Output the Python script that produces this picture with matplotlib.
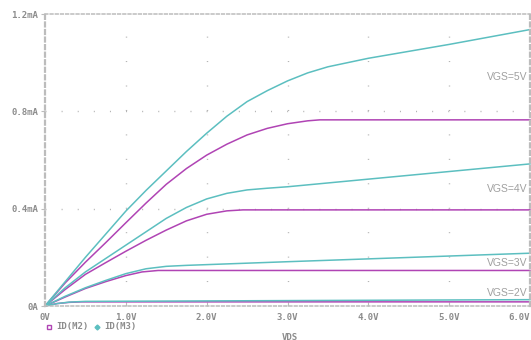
import matplotlib
matplotlib.use('Agg')
import matplotlib.pyplot as plt

# VDS (V) / drain current (mA), one curve per VGS
v_m2_5 = [0, 0.25, 0.5, 0.75, 1.0, 1.25, 1.5, 1.75, 2.0, 2.25, 2.5, 2.75, 3.0, 3.25, 3.4, 6.0]
i_m2_5 = [0, 0.095, 0.18, 0.26, 0.342, 0.423, 0.5, 0.565, 0.62, 0.665, 0.703, 0.73, 0.749, 0.761, 0.765, 0.765]
v_m3_5 = [0, 0.25, 0.5, 0.75, 1.0, 1.25, 1.5, 1.75, 2.0, 2.25, 2.5, 2.75, 3.0, 3.25, 3.5, 4.0, 5.0, 6.0]
i_m3_5 = [0, 0.10, 0.20, 0.295, 0.39, 0.475, 0.555, 0.635, 0.71, 0.78, 0.84, 0.885, 0.925, 0.958, 0.983, 1.018, 1.075, 1.136]

v_m2_4 = [0, 0.25, 0.5, 0.75, 1.0, 1.25, 1.5, 1.75, 2.0, 2.25, 2.45, 6.0]
i_m2_4 = [0, 0.068, 0.13, 0.178, 0.225, 0.27, 0.312, 0.35, 0.377, 0.391, 0.395, 0.395]
v_m3_4 = [0, 0.25, 0.5, 0.75, 1.0, 1.25, 1.5, 1.75, 2.0, 2.25, 2.5, 2.75, 3.0, 6.0]
i_m3_4 = [0, 0.075, 0.14, 0.195, 0.25, 0.305, 0.36, 0.405, 0.44, 0.463, 0.477, 0.484, 0.49, 0.584]

v_m2_3 = [0, 0.25, 0.5, 0.75, 1.0, 1.2, 1.4, 6.0]
i_m2_3 = [0, 0.037, 0.072, 0.1, 0.125, 0.14, 0.146, 0.146]
v_m3_3 = [0, 0.25, 0.5, 0.75, 1.0, 1.25, 1.5, 1.75, 3.0, 6.0]
i_m3_3 = [0, 0.04, 0.075, 0.105, 0.133, 0.153, 0.163, 0.167, 0.182, 0.217]

v_m2_2 = [0, 0.15, 0.3, 0.45, 6.0]
i_m2_2 = [0, 0.01, 0.015, 0.017, 0.017]
v_m3_2 = [0, 0.15, 0.3, 0.5, 6.0]
i_m3_2 = [0, 0.01, 0.016, 0.019, 0.026]

vgs_labels = ['VGS=5V', 'VGS=4V', 'VGS=3V', 'VGS=2V']
x_ticks = [0, 1, 2, 3, 4, 5, 6]
x_ticklabels = ['0V', '1.0V', '2.0V', '3.0V', '4.0V', '5.0V', '6.0V']
y_ticks = [0, 0.4, 0.8, 1.2]
y_ticklabels = ['0A', '0.4mA', '0.8mA', '1.2mA']

MAG = '#b044b4'
TEAL = '#5cbfc0'
GRAY = '#8c8c8c'
FRAME = '#bcbcbc'

fig = plt.figure(figsize=(5.31, 3.40), dpi=100)
ax = fig.add_axes([45 / 531, 34 / 340, 485 / 531, 292 / 340])
ax.set_xlim(0, 6)
ax.set_ylim(0, 1.2)

# sparse dotted grid
for x in [1, 2, 3, 4, 5]:
    ax.axvline(x, color='#b0b0b0', lw=1, linestyle=(0, (0.7, 16.9)), zorder=0)
for y in [0.4, 0.8]:
    ax.axhline(y, color='#b0b0b0', lw=1, linestyle=(0, (0.7, 10.9)), zorder=0)

# magenta first, teal on top
for v, i in [(v_m2_5, i_m2_5), (v_m2_4, i_m2_4), (v_m2_3, i_m2_3), (v_m2_2, i_m2_2)]:
    ax.plot(v, i, color=MAG, lw=1.1, clip_on=False)
for v, i in [(v_m3_5, i_m3_5), (v_m3_4, i_m3_4), (v_m3_3, i_m3_3), (v_m3_2, i_m3_2)]:
    ax.plot(v, i, color=TEAL, lw=1.1, clip_on=False)

for lab, y in zip(vgs_labels, [0.942, 0.481, 0.177, 0.053]):
    ax.text(5.965, y, lab, ha='right', va='center', fontsize=7.5,
            color='#a0a0a0', family='Liberation Sans')

for name, s in ax.spines.items():
    s.set_color(FRAME)
    s.set_linestyle((0, (1.8, 1.6)))
    s.set_linewidth(1.6 if name in ('left', 'right') else 1.1)

mono = dict(family='DejaVu Sans Mono', fontsize=6.5, color=GRAY, fontweight='bold')
ax.set_xticks(x_ticks)
ax.set_xticklabels(x_ticklabels, **mono)
ax.set_yticks(y_ticks)
ax.set_yticklabels(y_ticklabels, **mono)
ax.tick_params(axis='x', direction='in', length=3, color=FRAME, pad=5)
ax.tick_params(axis='y', direction='out', length=3, color=FRAME, pad=2)
ax.get_xticklabels()[-1].set_horizontalalignment('right')

fig.text(290 / 531, 1 - 337 / 340, 'VDS', ha='center', va='center', **mono)

# legend under the plot
ax.plot([49 / 531], [1 - 326.5 / 340], marker='s', ms=3.5, mfc='none', mec=MAG,
        mew=1, transform=fig.transFigure, clip_on=False, ls='none')
fig.text(56 / 531, 1 - 326.5 / 340, 'ID(M2)', ha='left', va='center', **mono)
ax.plot([97 / 531], [1 - 326.5 / 340], marker='D', ms=2.5, color=TEAL,
        transform=fig.transFigure, clip_on=False, ls='none')
fig.text(104 / 531, 1 - 326.5 / 340, 'ID(M3)', ha='left', va='center', **mono)

fig.savefig('out.png', dpi=100)
